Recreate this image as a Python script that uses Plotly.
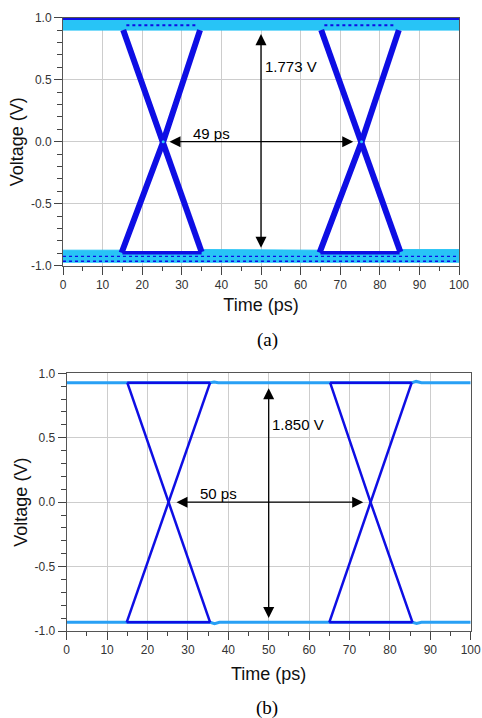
import plotly.graph_objects as go

# ---------------- data ----------------
time_ticks = [0, 10, 20, 30, 40, 50, 60, 70, 80, 90, 100]
time_tick_labels = ["0", "10", "20", "30", "40", "50", "60", "70", "80", "90", "100"]
time_minor = [5, 15, 25, 35, 45, 55, 65, 75, 85, 95]
volt_ticks = [-1.0, -0.5, 0.0, 0.5, 1.0]
volt_tick_labels = ["-1.0", "-0.5", "0.0", "0.5", "1.0"]
volt_minor = [-0.9, -0.8, -0.7, -0.6, -0.4, -0.3, -0.2, -0.1,
              0.1, 0.2, 0.3, 0.4, 0.6, 0.7, 0.8, 0.9]

# (a) measured eye: noise envelopes (cyan) and traces (blue)
a_hi_env_t = [0, 100]
a_hi_env_top = [1.0, 1.0]
a_hi_env_bot = [0.90, 0.90]
a_lo_env_t = [0, 14.8, 15.2, 35.0, 35.5, 64.8, 65.2, 85.0, 85.5, 100]
a_lo_env_top = [-0.875, -0.875, -0.89, -0.89, -0.87, -0.875, -0.89, -0.89, -0.87, -0.87]
a_lo_env_bot = [-0.972, -0.972, -0.972, -0.972, -0.972, -0.972, -0.972, -0.972, -0.972, -0.972]
a_hi_line_t = [0, 100]
a_hi_line_v = [0.993, 0.993]
a_lo_line_t = [0, 100]
a_lo_line_v = [-0.965, -0.965]
a_eye_top_t = [[16.0, 34.0], [66.0, 84.0]]
a_eye_top_v = [[0.94, 0.94], [0.94, 0.94]]
a_eye_bot_t = [[15.0, 35.0], [65.0, 85.0]]
a_eye_bot_v = [[-0.895, -0.895], [-0.895, -0.895]]
a_noise_t = [[0, 100]]
a_noise_v = [[-0.925, -0.925]]
a_fall_t = [[15.2, 25.3, 35.0], [65.2, 75.4, 85.2]]
a_fall_v = [[0.90, 0.0, -0.89], [0.90, 0.0, -0.89]]
a_rise_t = [[14.8, 25.3, 34.6], [64.8, 75.4, 84.8]]
a_rise_v = [[-0.895, 0.0, 0.90], [-0.895, 0.0, 0.90]]
a_cross_t = [25.3, 75.4]
a_cross_v = [0.0, 0.0]

# (b) simulated eye
b_hi_t = [0, 35.5, 36.5, 37.5, 85.5, 86.5, 87.8, 100]
b_hi_v = [0.927, 0.927, 0.933, 0.927, 0.927, 0.937, 0.927, 0.927]
b_lo_t = [0, 35.5, 36.6, 37.8, 85.6, 86.6, 87.8, 100]
b_lo_v = [-0.933, -0.933, -0.943, -0.933, -0.933, -0.942, -0.933, -0.933]
b_eye_top_t = [[15.0, 35.5], [65.2, 85.4]]
b_eye_top_v = [[0.927, 0.927], [0.927, 0.927]]
b_eye_bot_t = [[14.85, 35.5], [65.0, 85.6]]
b_eye_bot_v = [[-0.933, -0.933], [-0.933, -0.933]]
b_fall_t = [[15.0, 25.3, 35.5], [65.2, 75.2, 85.6]]
b_fall_v = [[0.927, 0.0, -0.933], [0.927, 0.0, -0.933]]
b_rise_t = [[14.85, 25.3, 35.5], [65.0, 75.2, 85.4]]
b_rise_v = [[-0.933, 0.0, 0.927], [-0.933, 0.0, 0.927]]

# measurement markers
a_amp_x, a_amp_top, a_amp_bot, a_amp_label = 50.0, 0.88, -0.855, "1.773 V"
a_per_y, a_per_left, a_per_right, a_per_label = 0.0, 26.5, 73.3, "49 ps"
b_amp_x, b_amp_top, b_amp_bot, b_amp_label = 50.0, 0.896, -0.90, "1.850 V"
b_per_y, b_per_left, b_per_right, b_per_label = 0.0, 26.8, 73.4, "50 ps"

# ---------------- style ----------------
DARK = "rgb(14,14,228)"
CYAN = "rgb(40,196,246)"
LIGHT = "rgb(40,160,245)"
SANS = "Liberation Sans, Arial, sans-serif"
SERIF = "Liberation Serif, Times New Roman, serif"

fig = go.Figure()


def line(x, y, xa, ya, color, width, dash=None):
    fig.add_trace(go.Scatter(x=x, y=y, xaxis=xa, yaxis=ya, mode="lines",
                             line=dict(color=color, width=width, dash=dash),
                             showlegend=False, hoverinfo="skip"))


def band(t, top, bot, xa, ya, color):
    fig.add_trace(go.Scatter(x=list(t) + list(t)[::-1], y=list(top) + list(bot)[::-1],
                             xaxis=xa, yaxis=ya, mode="lines", fill="toself",
                             fillcolor=color, line=dict(color=color, width=1),
                             showlegend=False, hoverinfo="skip"))


# (a)
band(a_hi_env_t, a_hi_env_top, a_hi_env_bot, "x", "y", CYAN)
band(a_lo_env_t, a_lo_env_top, a_lo_env_bot, "x", "y", CYAN)
line(a_hi_line_t, a_hi_line_v, "x", "y", DARK, 3)
line(a_lo_line_t, a_lo_line_v, "x", "y", DARK, 1.5, dash="dot")
for t, v in zip(a_noise_t, a_noise_v):
    line(t, v, "x", "y", DARK, 1.2, dash="dot")
for t, v in zip(a_eye_top_t, a_eye_top_v):
    line(t, v, "x", "y", DARK, 2, dash="dot")
for t, v in zip(a_eye_bot_t, a_eye_bot_v):
    line(t, v, "x", "y", DARK, 3.5)
for t, v in zip(a_fall_t, a_fall_v):
    line(t, v, "x", "y", DARK, 6)
for t, v in zip(a_rise_t, a_rise_v):
    line(t, v, "x", "y", DARK, 6)
fig.add_trace(go.Scatter(x=a_cross_t, y=a_cross_v, xaxis="x", yaxis="y", mode="markers",
                         marker=dict(color=CYAN, size=3), showlegend=False, hoverinfo="skip"))

# (b)
line(b_hi_t, b_hi_v, "x2", "y2", LIGHT, 3)
line(b_lo_t, b_lo_v, "x2", "y2", LIGHT, 3)
for t, v in zip(b_eye_top_t, b_eye_top_v):
    line(t, v, "x2", "y2", DARK, 2.5)
for t, v in zip(b_eye_bot_t, b_eye_bot_v):
    line(t, v, "x2", "y2", DARK, 2.5)
for t, v in zip(b_fall_t, b_fall_v):
    line(t, v, "x2", "y2", DARK, 2.5)
for t, v in zip(b_rise_t, b_rise_v):
    line(t, v, "x2", "y2", DARK, 2.5)


def xaxis(domain, anchor, standoff):
    return dict(domain=domain, anchor=anchor, range=[0, 100],
                tickmode="array", tickvals=time_ticks, ticktext=time_tick_labels,
                ticks="outside", ticklen=8, tickwidth=1, tickcolor="#444",
                minor=dict(tickmode="array", tickvals=time_minor, ticks="outside",
                           ticklen=4, tickwidth=1, tickcolor="#444", showgrid=False),
                showgrid=True, gridcolor="rgb(205,205,205)", gridwidth=1,
                showline=True, linecolor="#555", linewidth=1, mirror=True, zeroline=False,
                tickfont=dict(family=SANS, size=12, color="#333"),
                title=dict(text="Time (ps)", font=dict(family=SANS, size=18, color="#111"),
                           standoff=standoff),
                automargin=False, fixedrange=True)


def yaxis(domain, anchor, standoff):
    return dict(domain=domain, anchor=anchor, range=[-1, 1],
                tickmode="array", tickvals=volt_ticks, ticktext=volt_tick_labels,
                ticks="outside", ticklen=8, tickwidth=1, tickcolor="#444",
                minor=dict(tickmode="array", tickvals=volt_minor, ticks="outside",
                           ticklen=5, tickwidth=1, tickcolor="#444", showgrid=False),
                showgrid=True, gridcolor="rgb(205,205,205)", gridwidth=1,
                showline=True, linecolor="#555", linewidth=1, mirror=True, zeroline=False,
                tickfont=dict(family=SANS, size=12, color="#333"),
                title=dict(text="Voltage (V)", font=dict(family=SANS, size=18, color="#111"),
                           standoff=standoff),
                automargin=False, fixedrange=True)


W, H = 482, 718
fig.update_layout(
    width=W, height=H, margin=dict(l=0, r=0, t=0, b=0),
    paper_bgcolor="white", plot_bgcolor="white", showlegend=False,
    xaxis=xaxis([63 / W, 459 / W], "y", 7),
    yaxis=yaxis([1 - 265.7 / H, 1 - 17.7 / H], "x", 2),
    xaxis2=xaxis([66.7 / W, 470.7 / W], "y2", 10),
    yaxis2=yaxis([1 - 631 / H, 1 - 373.3 / H], "x2", 2),
)


def arrow(xref, yref, x, y, ax, ay):
    fig.add_annotation(x=x, y=y, ax=ax, ay=ay, xref=xref, yref=yref, axref=xref, ayref=yref,
                       text="", showarrow=True, arrowhead=2, startarrowhead=2,
                       arrowside="end+start", arrowsize=1.7, startarrowsize=1.7,
                       arrowwidth=1.3, arrowcolor="black", standoff=0, startstandoff=0)


def label(xref, yref, x, y, text, xanchor):
    fig.add_annotation(x=x, y=y, xref=xref, yref=yref, text=text, showarrow=False,
                       xanchor=xanchor, yanchor="middle",
                       font=dict(family=SANS, size=15, color="black"))


arrow("x", "y", a_amp_x, a_amp_bot, a_amp_x, a_amp_top)
arrow("x", "y", a_per_right, a_per_y, a_per_left, a_per_y)
label("x", "y", 50.6, 0.61, a_amp_label, "left")
label("x", "y", 37.6, 0.07, a_per_label, "center")

arrow("x2", "y2", b_amp_x, b_amp_bot, b_amp_x, b_amp_top)
arrow("x2", "y2", b_per_right, b_per_y, b_per_left, b_per_y)
label("x2", "y2", 50.2, 0.605, b_amp_label, "left")
label("x2", "y2", 37.6, 0.07, b_per_label, "center")

fig.add_annotation(x=267 / W, y=1 - 340 / H, xref="paper", yref="paper", text="(a)",
                   showarrow=False, xanchor="center", yanchor="middle",
                   font=dict(family=SERIF, size=19, color="black"))
fig.add_annotation(x=267 / W, y=1 - 708 / H, xref="paper", yref="paper", text="(b)",
                   showarrow=False, xanchor="center", yanchor="middle",
                   font=dict(family=SERIF, size=19, color="black"))

fig.write_html("out.html")
